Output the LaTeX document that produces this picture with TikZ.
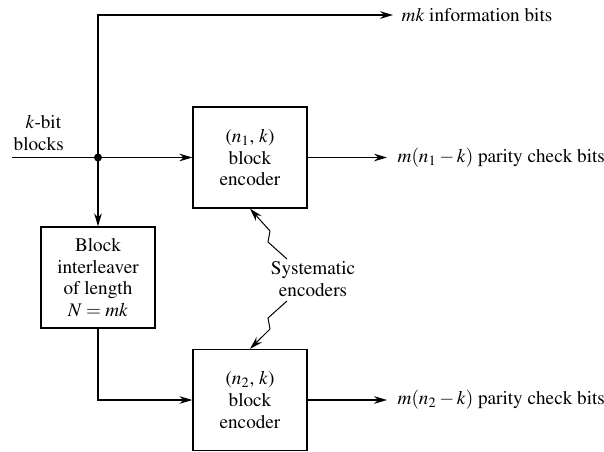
\documentclass[tikz,border=0pt]{standalone}
\usepackage[T1]{fontenc}
\usepackage{mathptmx}
\usetikzlibrary{arrows.meta}
\begin{document}
\begin{tikzpicture}[x=0.5pt,y=-0.5pt,
  line width=0.65pt,
  every node/.style={font=\fontsize{9.6}{10.8}\selectfont, align=center, inner sep=0pt},
  blk/.style={draw, minimum width=57pt, minimum height=50.5pt},
  arr/.style={-{Stealth[length=6.5pt,width=3.8pt]}},
  lab/.style={anchor=west}]
\useasboundingbox (0,0) rectangle (604,451);
% boxes
\node[blk] (enc1) at (250,157.5) {($n_1$, $k$)\\block\\encoder};
\node[blk] (enc2) at (250,400) {($n_2$, $k$)\\block\\encoder};
\node[blk] (intl) at (98,277.5) {Block\\interleaver\\of length\\$N = mk$};
% coordinates
\coordinate (in) at (12,157.5);
\coordinate (jn) at (98,157.5);
\coordinate (top) at (98,15);
\coordinate (bend) at (98,400);
% labels
\node[lab] (o0) at (401,15) {$mk$ information bits};
\node[lab] (o1) at (397,157.5) {$m(n_1 - k)$ parity check bits};
\node[lab] (o2) at (397,400) {$m(n_2 - k)$ parity check bits};
\node[anchor=west, align=left] (kb) at (13,133) {\hspace*{6pt}$k$-bit\\blocks};
\node (sys) at (313,279) {Systematic\\encoders};
% connectors
\draw (in) -- (jn);
\draw[arr] (jn) -- (enc1.west);
\draw[arr, shorten >=4] (jn) -- (top) -- (o0.west);
\draw[arr] (jn) -- (intl.north);
\draw[arr] (intl.south) -- (bend) -- (enc2.west);
\draw[arr, shorten >=5] (enc1.east) -- (o1.west);
\draw[arr, shorten >=5] (enc2.east) -- (o2.west);
\fill (jn) circle (4);
% lightning arrows
\draw[arr, line width=0.5pt] (287,259) -- (268,242) -- (270,231) -- (enc1.south);
\draw[arr, line width=0.5pt] (287,301) -- (268,318) -- (270,329) -- (enc2.north);
\end{tikzpicture}
\end{document}
